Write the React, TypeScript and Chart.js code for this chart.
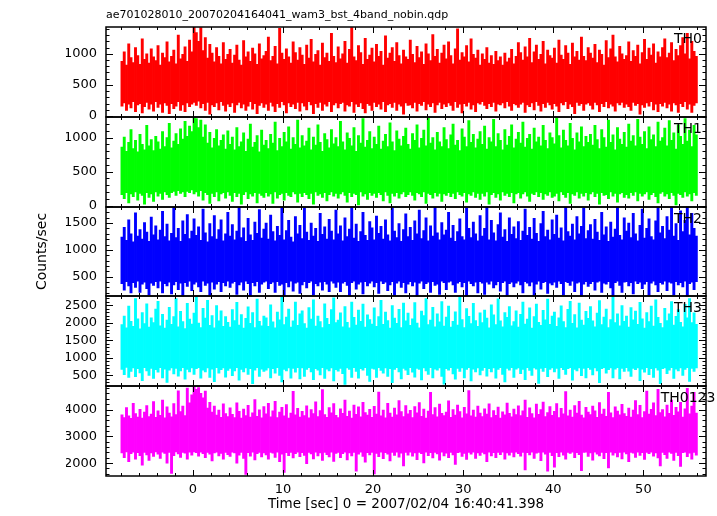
import { useEffect, useRef } from "react";
import { Chart, registerables } from "chart.js";

Chart.register(...registerables);

const FONT = "'DejaVu Sans', 'Liberation Sans', sans-serif";

const TITLE = "ae701028010_20070204164041_wam3_bst_4band_nobin.qdp";
const X_LABEL = "Time [sec] 0 = 2007/02/04 16:40:41.398";
const Y_LABEL = "Counts/sec";

const BAND_NAMES = ["TH0", "TH1", "TH2", "TH3", "TH0123"];
const BAND_COLORS = ["#ff0000", "#00ff00", "#0000ff", "#00ffff", "#ff00ff"];
const PANEL_IDS = ["y0", "y1", "y2", "y3", "y4"];

// time bins: 0.25 s wide, first bin starts at -8 s
const T_START = -8.0;
const T_STEP = 0.25;

// axis ranges and ticks
const X_MIN = -9.65;
const X_MAX = 56.95;
const X_MAJOR = 10;
const X_MINOR = 2;
const Y_MIN = [-12, -15, 134, 190, 1520];
const Y_MAX = [1430, 1307, 1807, 2760, 4870];
const Y_MAJOR = [500, 500, 500, 500, 1000];
const Y_MINOR = [100, 100, 100, 100, 200];

// per-bin upper and lower extent of the light curve (counts/sec)
const TH0_MAX = [
  880, 1030, 820, 1160, 940, 860, 1100, 970, 830, 1240, 910, 1000, 850, 1080, 950, 890,
  1130, 820, 1010, 940, 1190, 870, 960, 1060, 840, 1300, 920, 990, 1110, 880, 1220, 1030,
  1430, 1340, 1200, 1420, 1050, 1260, 930, 1150, 1010, 870, 1100, 960, 840, 1180, 910, 990,
  1070, 850, 980, 1140, 900, 820, 1210, 950, 1030, 880, 1090, 1000, 830, 1160, 920, 970,
  1040, 1270, 890, 960, 1120, 840, 1410, 1010, 910, 1080, 950, 850, 1190, 1020, 900, 1100,
  980, 830, 1140, 930, 1230, 870, 990, 1050, 820, 1170, 940, 1010, 880, 1330, 960, 860,
  1110, 920, 1000, 1200, 850, 1070, 1420, 950, 890, 1130, 1020, 830, 1250, 910, 980, 1090,
  870, 1150, 960, 1040, 820, 1290, 930, 1010, 1100, 880, 1180, 970, 840, 1060, 950, 910,
  1220, 990, 860, 1120, 940, 1030, 830, 1160, 1000, 890, 1310, 960, 1070, 850, 1010, 1140,
  920, 1190, 970, 840, 1080, 1400, 900, 1020, 950, 1130, 870, 1240, 990, 930, 1060, 820,
  1000, 910, 1100, 850, 970, 830, 1040, 890, 950, 820, 1010, 870, 930, 1070, 840, 960,
  1180, 1020, 900, 1110, 950, 1250, 860, 1030, 1140, 910, 990, 1200, 840, 1060, 970, 930,
  1090, 850, 1220, 980, 910, 1130, 1010, 830, 1170, 950, 1040, 900, 1270, 960, 890, 1100,
  1010, 930, 1150, 860, 1060, 990, 820, 1210, 940, 1080, 1300, 950, 870, 1120, 1000, 910,
  970, 1190, 880, 1050, 960, 1140, 840, 1020, 1230, 910, 1090, 980, 1160, 850, 1030, 950,
  1100, 1240, 940, 1010, 1180, 890, 1070, 970, 1130, 1260, 1000, 1330, 920, 1200, 1040, 960,
];
const TH0_MIN = [
  160, 210, 90, 190, 130, 230, 70, 180, 200, 50, 150, 220, 110, 190, 80, 230,
  140, 190, 60, 210, 170, 40, 200, 120, 160, 230, 90, 180, 70, 210, 150, 190,
  220, 170, 240, 130, 200, 90, 220, 30, 180, 150, 210, 100, 230, 170, 80, 190,
  150, 210, 60, 180, 220, 130, 190, 90, 160, 230, 110, 200, 40, 170, 210, 140,
  190, 90, 220, 160, 70, 200, 140, 230, 180, 50, 210, 150, 190, 120, 220, 80,
  210, 160, 100, 230, 180, 40, 200, 140, 220, 90, 190, 160, 230, 70, 180, 210,
  130, 200, 220, 80, 180, 160, 230, 60, 190, 150, 210, 120, 50, 200, 170, 90,
  220, 150, 190, 110, 230, 70, 180, 200, 140, 220, 90, 190, 160, 30, 210, 170,
  180, 130, 220, 80, 200, 170, 230, 100, 190, 150, 210, 60, 180, 220, 120, 190,
  150, 210, 170, 90, 230, 140, 190, 50, 200, 160, 220, 110, 180, 70, 210, 190,
  230, 170, 120, 200, 150, 220, 80, 190, 180, 210, 130, 230, 160, 90, 200, 180,
  140, 190, 220, 60, 180, 150, 210, 100, 230, 170, 80, 200, 140, 220, 180, 110,
  200, 160, 70, 210, 180, 230, 120, 190, 150, 40, 220, 170, 200, 90, 190, 210,
  170, 110, 220, 180, 70, 200, 150, 230, 130, 190, 160, 80, 210, 180, 220, 140,
  190, 150, 90, 220, 170, 200, 30, 180, 140, 210, 160, 230, 100, 190, 70, 200,
  160, 220, 130, 190, 80, 210, 180, 60, 200, 150, 230, 110, 190, 60, 170, 210,
];

const TH1_MAX = [
  860, 1010, 800, 930, 1120, 840, 960, 790, 1050, 900, 820, 1180, 880, 970, 810, 1020,
  940, 830, 1090, 870, 1000, 1210, 850, 950, 1060, 900, 1130, 980, 1240, 1020, 1170, 1090,
  1300, 1280, 1150, 1260, 1010, 1190, 920, 1080, 850, 990, 1120, 880, 960, 1040, 830, 1100,
  900, 1010, 820, 1150, 870, 940, 1070, 800, 980, 1200, 860, 930, 1030, 790, 1110, 890,
  960, 840, 1050, 920, 1230, 810, 990, 870, 1080, 940, 1160, 830, 1000, 900, 1260, 850,
  1030, 880, 950, 1140, 820, 1010, 890, 1190, 930, 800, 1060, 970, 850, 1120, 910, 1000,
  870, 1240, 940, 820, 1070, 990, 880, 1150, 800, 1030, 920, 1280, 860, 960, 1090, 840,
  1010, 900, 1170, 830, 950, 1050, 870, 1220, 940, 810, 1100, 980, 880, 1020, 1140, 900,
  830, 1060, 960, 1190, 850, 990, 1110, 880, 1290, 920, 1000, 820, 1080, 940, 870, 1150,
  970, 840, 1040, 1200, 890, 960, 810, 1130, 1010, 870, 1250, 930, 1050, 850, 980, 1090,
  900, 1170, 830, 1000, 940, 1270, 870, 1060, 960, 820, 1120, 890, 1020, 1190, 850, 980,
  1080, 920, 1230, 860, 990, 1050, 830, 1140, 940, 1010, 880, 1180, 960, 840, 1070, 1000,
  910, 1290, 1030, 850, 1110, 960, 880, 1210, 990, 820, 1070, 940, 1160, 870, 1020, 930,
  1050, 890, 1180, 970, 840, 1120, 1000, 860, 1260, 930, 1040, 820, 1150, 980, 900, 1080,
  860, 1200, 950, 1030, 880, 1270, 1010, 900, 1090, 840, 1160, 970, 1040, 870, 1230, 950,
  1000, 1140, 880, 1250, 960, 1070, 830, 1190, 1020, 900, 1280, 950, 1110, 870, 1180, 1040,
];
const TH1_MIN = [
  160, 100, 190, 40, 170, 130, 200, 80, 180, 150, 20, 190, 120, 170, 60, 200,
  140, 180, 90, 200, 160, 120, 190, 210, 150, 220, 180, 200, 130, 210, 190, 230,
  170, 200, 140, 220, 80, 190, 160, 30, 180, 130, 200, 70, 170, 190, 110, 200,
  150, 60, 190, 130, 180, 20, 160, 200, 100, 170, 140, 190, 40, 180, 150, 120,
  190, 140, 170, 30, 200, 110, 160, 180, 80, 190, 150, 130, 200, 170, 50, 180,
  130, 190, 160, 100, 180, 20, 200, 150, 170, 120, 190, 70, 160, 200, 140, 180,
  110, 170, 200, 150, 50, 190, 130, 180, 160, 10, 200, 140, 170, 90, 190, 150,
  180, 120, 190, 160, 70, 200, 150, 40, 180, 140, 190, 110, 170, 200, 130, 160,
  200, 150, 80, 190, 170, 130, 200, 30, 180, 160, 110, 190, 140, 180, 60, 170,
  150, 190, 130, 180, 100, 200, 160, 140, 190, 50, 170, 150, 200, 120, 180, 90,
  180, 140, 200, 20, 160, 190, 120, 170, 80, 200, 150, 180, 130, 190, 40, 170,
  190, 110, 170, 200, 140, 60, 180, 160, 200, 130, 190, 90, 170, 150, 200, 120,
  140, 180, 70, 200, 160, 120, 190, 30, 170, 150, 200, 110, 180, 140, 190, 80,
  170, 200, 130, 180, 20, 190, 150, 160, 100, 200, 140, 180, 50, 170, 190, 120,
  160, 110, 190, 150, 200, 70, 180, 140, 170, 200, 90, 160, 190, 130, 40, 180,
  200, 140, 170, 100, 190, 150, 10, 180, 160, 120, 200, 140, 170, 70, 190, 150,
];

const TH2_MAX = [
  1240, 1420, 1180, 1560, 1300, 1150, 1690, 1260, 1380, 1200, 1510, 1330, 1160, 1610, 1280, 1450,
  1190, 1370, 1720, 1250, 1480, 1170, 1310, 1800, 1230, 1400, 1160, 1540, 1290, 1660, 1210, 1350,
  1580, 1270, 1430, 1180, 1760, 1320, 1150, 1490, 1250, 1640, 1200, 1380, 1560, 1170, 1300, 1700,
  1260, 1470, 1190, 1350, 1800, 1230, 1410, 1160, 1590, 1280, 1180, 1520, 1310, 1750, 1220, 1390,
  1500, 1200, 1650, 1340, 1170, 1440, 1270, 1800, 1190, 1360, 1550, 1240, 1150, 1620, 1300, 1460,
  1210, 1780, 1330, 1180, 1500, 1260, 1400, 1160, 1680, 1290, 1430, 1200, 1570, 1350, 1190, 1740,
  1300, 1450, 1170, 1600, 1250, 1390, 1800, 1220, 1480, 1160, 1340, 1700, 1270, 1180, 1530, 1410,
  1190, 1630, 1310, 1440, 1200, 1560, 1280, 1170, 1790, 1350, 1230, 1490, 1160, 1380, 1670, 1250,
  1420, 1180, 1540, 1300, 1740, 1210, 1360, 1600, 1170, 1450, 1260, 1800, 1320, 1190, 1510, 1280,
  1370, 1700, 1220, 1460, 1160, 1340, 1580, 1250, 1190, 1780, 1400, 1230, 1520, 1300, 1170, 1640,
  1260, 1400, 1800, 1190, 1550, 1320, 1170, 1470, 1690, 1240, 1380, 1160, 1600, 1290, 1430, 1210,
  1530, 1180, 1350, 1760, 1270, 1420, 1200, 1590, 1310, 1160, 1490, 1720, 1250, 1370, 1190, 1560,
  1290, 1650, 1220, 1410, 1170, 1800, 1340, 1260, 1480, 1190, 1620, 1300, 1440, 1780, 1210, 1360,
  1470, 1200, 1570, 1330, 1180, 1700, 1280, 1430, 1160, 1520, 1240, 1390, 1800, 1270, 1190, 1600,
  1350, 1500, 1230, 1680, 1300, 1170, 1460, 1760, 1220, 1400, 1580, 1250, 1190, 1540, 1800, 1320,
  1440, 1210, 1620, 1370, 1800, 1260, 1490, 1180, 1730, 1340, 1550, 1800, 1280, 1680, 1400, 1260,
];
const TH2_MIN = [
  370, 250, 410, 330, 200, 390, 300, 420, 210, 360, 400, 280, 160, 380, 340, 410,
  290, 420, 200, 370, 330, 400, 180, 350, 410, 260, 380, 140, 390, 320, 420, 240,
  360, 400, 310, 220, 420, 340, 380, 150, 400, 270, 360, 410, 220, 390, 330, 420,
  300, 380, 410, 170, 350, 400, 250, 420, 370, 140, 390, 330, 410, 210, 360, 400,
  420, 280, 370, 400, 210, 410, 340, 360, 140, 390, 310, 420, 230, 380, 400, 190,
  350, 410, 290, 390, 420, 160, 370, 330, 400, 250, 410, 360, 220, 420, 380, 300,
  400, 220, 380, 410, 340, 140, 390, 420, 270, 360, 400, 180, 410, 330, 380, 420,
  310, 390, 190, 420, 370, 400, 240, 350, 410, 150, 380, 420, 300, 390, 200, 360,
  410, 330, 400, 140, 380, 420, 280, 370, 400, 210, 410, 340, 360, 170, 420, 390,
  260, 400, 420, 350, 210, 380, 410, 310, 390, 140, 420, 370, 330, 400, 200, 410,
  380, 170, 400, 360, 420, 290, 350, 410, 230, 390, 420, 150, 370, 400, 310, 380,
  420, 350, 200, 410, 380, 330, 400, 140, 360, 420, 270, 390, 410, 190, 380, 350,
  400, 300, 420, 370, 160, 410, 390, 340, 420, 220, 380, 400, 140, 360, 410, 320,
  370, 410, 250, 400, 420, 210, 380, 360, 410, 290, 140, 390, 420, 340, 210, 400,
  410, 330, 390, 180, 420, 370, 400, 280, 360, 410, 150, 380, 420, 350, 220, 390,
  360, 420, 240, 400, 380, 160, 410, 350, 390, 310, 420, 140, 370, 400, 260, 410,
];

const TH3_MAX = [
  1950, 2200, 1860, 2480, 2050, 1900, 2700, 2120, 1830, 2300, 1980, 2550, 1880, 2150, 2010, 2400,
  2620, 1920, 2250, 1850, 2080, 2450, 1960, 2180, 2700, 1890, 2330, 2040, 1840, 2560, 2110, 1970,
  2280, 2750, 2000, 1870, 2420, 2140, 2650, 1930, 2210, 1860, 2500, 2060, 2350, 1900, 2180, 2020,
  1880, 2380, 2070, 2590, 1940, 2240, 1850, 2130, 2460, 1990, 2300, 1870, 2680, 2050, 1920, 2200,
  2150, 1900, 2520, 2030, 1860, 2310, 2090, 2740, 1950, 2170, 2400, 1880, 2060, 2600, 1930, 2260,
  2350, 1980, 1850, 2440, 2110, 2660, 1910, 2200, 2040, 1870, 2550, 2130, 1960, 2380, 2720, 2010,
  2080, 2290, 1890, 2470, 2020, 1860, 2600, 2160, 1940, 2370, 2050, 2540, 1880, 2230, 2100, 1970,
  2430, 1900, 2180, 2650, 1960, 2310, 2070, 1850, 2500, 2140, 1990, 2390, 1870, 2570, 2060, 2280,
  1930, 2120, 2580, 2000, 1860, 2340, 2210, 2700, 1950, 2080, 2450, 1890, 2260, 2030, 2610, 1910,
  2170, 2480, 1880, 2050, 2320, 1940, 2750, 2100, 1870, 2410, 2190, 1980, 2560, 2070, 1900, 2290,
  2010, 2370, 2140, 1860, 2520, 2230, 1950, 2690, 2060, 1890, 2300, 2160, 2470, 1920, 2040, 2350,
  1880, 2250, 2600, 1970, 2110, 2430, 1850, 2180, 2540, 2020, 1930, 2360, 2090, 2680, 1960, 2200,
  2310, 1900, 2150, 2490, 2040, 1870, 2390, 2620, 1990, 2240, 1860, 2570, 2080, 1940, 2330, 2130,
  2470, 2060, 1890, 2280, 2640, 1950, 2170, 2400, 1870, 2100, 2730, 2010, 2260, 1920, 2500, 2050,
  2200, 1880, 2440, 2090, 2340, 1960, 2590, 2120, 1850, 2300, 2040, 2480, 1910, 2660, 2160, 1990,
  1870, 2420, 2070, 2260, 2610, 1940, 2190, 2380, 2020, 1890, 2530, 2150, 2700, 2010, 2290, 1960,
];
const TH3_MIN = [
  670, 520, 730, 440, 610, 710, 460, 690, 570, 350, 720, 630, 500, 700, 410, 660,
  590, 720, 430, 680, 300, 650, 710, 540, 700, 480, 630, 720, 390, 670, 600, 710,
  530, 690, 720, 420, 650, 600, 710, 440, 680, 320, 720, 560, 660, 710, 450, 640,
  700, 490, 630, 720, 360, 670, 600, 710, 530, 690, 260, 650, 720, 470, 680, 610,
  650, 710, 430, 690, 560, 720, 500, 310, 670, 630, 710, 420, 700, 590, 720, 400,
  710, 470, 670, 720, 600, 380, 690, 650, 510, 720, 410, 680, 630, 710, 340, 660,
  620, 700, 550, 240, 710, 670, 440, 720, 610, 420, 690, 650, 720, 500, 330, 700,
  680, 440, 720, 640, 560, 710, 470, 690, 290, 670, 720, 600, 400, 700, 650, 520,
  720, 590, 450, 700, 670, 370, 710, 630, 530, 720, 430, 680, 650, 710, 470, 250,
  690, 650, 720, 540, 390, 700, 610, 710, 430, 670, 720, 340, 680, 600, 710, 510,
  640, 720, 480, 690, 600, 710, 420, 670, 720, 530, 310, 700, 650, 720, 440, 680,
  710, 550, 670, 380, 720, 640, 500, 710, 680, 270, 700, 610, 720, 460, 670, 710,
  600, 700, 410, 720, 660, 530, 690, 720, 360, 670, 630, 710, 490, 700, 430, 720,
  670, 510, 710, 630, 290, 690, 720, 560, 660, 710, 430, 680, 720, 400, 700, 610,
  720, 620, 470, 700, 660, 710, 350, 680, 590, 720, 520, 690, 440, 710, 650, 260,
  690, 710, 550, 650, 720, 410, 680, 630, 710, 500, 670, 720, 330, 700, 610, 710,
];

const TH0123_MAX = [
  3800, 3700, 4070, 3760, 3670, 4230, 3850, 3720, 4010, 3680, 3900, 4150, 3740, 3830, 4300, 3710,
  3950, 3780, 4350, 3690, 4100, 3870, 3730, 4220, 3810, 4700, 3920, 4130, 3770, 4800, 4250, 4550,
  4870, 4750, 4820, 4600, 4440, 4690, 4050, 4270, 3900, 4130, 3790, 3980, 3710, 4210, 3850, 3740,
  4060, 3820, 3700, 4250, 3930, 3680, 4020, 3770, 4160, 3720, 3880, 4370, 3750, 3990, 3690, 4110,
  3840, 4230, 3730, 3950, 4310, 3700, 3900, 4080, 3760, 4180, 3680, 3870, 4680, 3800, 4040, 3720,
  3930, 3770, 4140, 3690, 4000, 3850, 4290, 3740, 3960, 4740, 3810, 3710, 4070, 3880, 4220, 3780,
  3700, 4030, 3860, 4350, 3750, 3940, 3680, 4170, 3820, 4100, 3730, 4270, 3890, 3790, 4010, 3710,
  4120, 3830, 4650, 3760, 3980, 3690, 4230, 3870, 3720, 4050, 3800, 4330, 3920, 3740, 4150, 3840,
  3970, 3700, 4110, 3880, 4260, 3750, 4020, 3680, 3940, 4640, 3810, 4070, 3730, 4200, 3860, 3770,
  3900, 4320, 3710, 4000, 3790, 4170, 3920, 3690, 4080, 3840, 4710, 3760, 3980, 3720, 4130, 3870,
  3740, 4030, 3830, 4210, 3700, 3960, 3780, 4090, 3680, 3910, 3800, 4240, 3860, 3730, 4020, 3810,
  4140, 3770, 3950, 4350, 3710, 4060, 3850, 3690, 4200, 3820, 4000, 4280, 3740, 3890, 4110, 3780,
  3930, 4220, 3700, 4040, 3840, 4670, 3760, 3980, 3720, 4150, 3870, 4310, 3790, 3690, 4080, 3900,
  3810, 4130, 3950, 3710, 4260, 3830, 4020, 3750, 4640, 3880, 3700, 4100, 3940, 3800, 4190, 3850,
  3750, 4050, 3720, 3980, 4330, 3810, 4160, 3700, 3920, 4690, 3830, 4010, 4250, 3770, 4750, 3890,
  4000, 3730, 4170, 3860, 4350, 3780, 4080, 3910, 4270, 3720, 4030, 4790, 3840, 4130, 4640, 3870,
];
const TH0123_MIN = [
  2380, 2200, 2420, 2050, 2350, 2410, 2150, 2390, 2280, 1920, 2400, 2310, 2100, 2380, 2250, 2420,
  2330, 2180, 2410, 2360, 2000, 2400, 1620, 2280, 2420, 2340, 2210, 2400, 2370, 2150, 2410, 2300,
  2420, 2390, 2260, 2410, 2350, 2200, 2400, 2330, 2080, 2380, 2410, 2270, 2360, 2150, 2400, 2320,
  2250, 2410, 2380, 2000, 2300, 2400, 2180, 1580, 2390, 2260, 2410, 2120, 2350, 2400, 2230, 2380,
  2310, 2150, 2400, 2370, 2210, 2410, 2050, 2330, 1650, 2390, 2280, 2400, 2190, 2350, 2410, 2240,
  2390, 2290, 1980, 2400, 2340, 2160, 2410, 2270, 2380, 2100, 2400, 2320, 2230, 2410, 2060, 2360,
  2400, 2200, 2350, 2410, 2120, 2380, 2270, 2400, 1700, 2330, 2410, 2250, 2040, 2390, 2310, 2400,
  1600, 2360, 2240, 2410, 2170, 2390, 2330, 2080, 2400, 2290, 2410, 2220, 2370, 1900, 2400, 2300,
  2410, 2260, 2380, 2130, 2400, 2350, 2010, 2410, 2280, 2390, 2190, 2400, 2340, 2110, 2410, 2270,
  2370, 2200, 2400, 2310, 1950, 2390, 2410, 2250, 2360, 2140, 2400, 2330, 2410, 2180, 2380, 2290,
  2400, 2340, 2050, 2410, 2270, 2390, 2200, 2400, 2320, 2410, 2150, 2380, 2300, 2400, 2230, 2410,
  2350, 2260, 2400, 1750, 2390, 2310, 2410, 2180, 2370, 2400, 2090, 2410, 2330, 1700, 2400, 2280,
  1850, 2390, 2240, 2410, 2300, 2150, 2400, 2360, 2410, 2200, 2390, 2320, 1720, 2400, 2410, 2250,
  2380, 2110, 2410, 2330, 2270, 2400, 2170, 2390, 1820, 2410, 2300, 2380, 2230, 2400, 2160, 2410,
  2340, 2050, 2400, 2370, 2210, 2410, 2290, 2390, 2140, 2400, 2350, 2410, 2260, 2380, 2190, 1900,
  2400, 2320, 2180, 2410, 2360, 2100, 2400, 2280, 1880, 2390, 2410, 2240, 2370, 2150, 2400, 2300,
];

const SERIES_MAX = [TH0_MAX, TH1_MAX, TH2_MAX, TH3_MAX, TH0123_MAX];
const SERIES_MIN = [TH0_MIN, TH1_MIN, TH2_MIN, TH3_MIN, TH0123_MIN];

const framePlugin = {
  id: "qdpFrame",
  afterDatasetsDraw(chart: any) {
    const ctx = chart.ctx as CanvasRenderingContext2D;
    const xs = chart.scales.x;
    const left = Math.round(chart.chartArea.left);
    const right = Math.round(chart.chartArea.right);
    ctx.save();
    ctx.strokeStyle = "#000";
    ctx.fillStyle = "#000";
    PANEL_IDS.forEach((id, k) => {
      const ys = chart.scales[id];
      const top = Math.round(ys.top);
      const bottom = Math.round(ys.bottom);
      ctx.lineWidth = 1;
      ctx.beginPath();
      const kx0 = Math.ceil(X_MIN / X_MINOR);
      for (let j = kx0; j * X_MINOR <= X_MAX; j++) {
        const v = j * X_MINOR;
        const px = Math.round(xs.getPixelForValue(v)) + 0.5;
        const len = v % X_MAJOR === 0 ? 6 : 3;
        ctx.moveTo(px, bottom);
        ctx.lineTo(px, bottom - len);
        ctx.moveTo(px, top);
        ctx.lineTo(px, top + len);
      }
      const minor = Y_MINOR[k];
      const major = Y_MAJOR[k];
      const ky0 = Math.ceil(Y_MIN[k] / minor);
      for (let j = ky0; j * minor <= Y_MAX[k]; j++) {
        const v = j * minor;
        const py = Math.round(ys.getPixelForValue(v)) + 0.5;
        const len = v % major === 0 ? 7 : 3.5;
        ctx.moveTo(left, py);
        ctx.lineTo(left + len, py);
        ctx.moveTo(right, py);
        ctx.lineTo(right - len, py);
      }
      ctx.stroke();
      ctx.lineWidth = 1.5;
      ctx.strokeRect(left, top, right - left, bottom - top);
      ctx.font = "14px " + FONT;
      ctx.textAlign = "center";
      ctx.textBaseline = "alphabetic";
      ctx.fillText(BAND_NAMES[k], right - 18, top + 15.5);
    });
    ctx.restore();
  },
};

function buildConfig(): any {
  const yScales: Record<string, any> = {};
  for (let k = PANEL_IDS.length - 1; k >= 0; k--) {
    const kk = k;
    yScales[PANEL_IDS[k]] = {
      type: "linear",
      axis: "y",
      position: "left",
      stack: "panels",
      stackWeight: 1,
      min: Y_MIN[k],
      max: Y_MAX[k],
      grid: { display: false, drawTicks: false },
      border: { display: false },
      ticks: {
        autoSkip: false,
        padding: 9,
        color: "#000",
        font: { family: FONT, size: 13 },
        callback: (v: number) => String(v),
      },
      afterBuildTicks: (s: any) => {
        const vals: { value: number }[] = [];
        const step = Y_MAJOR[kk];
        for (let j = Math.ceil(Y_MIN[kk] / step); j * step <= Y_MAX[kk]; j++) {
          vals.push({ value: j * step });
        }
        s.ticks = vals;
      },
      afterFit: (s: any) => {
        s.width = 40;
      },
    };
  }
  const datasets = SERIES_MAX.map((hi, k) => {
    const lo = SERIES_MIN[k];
    return {
      type: "bar",
      label: BAND_NAMES[k],
      yAxisID: PANEL_IDS[k],
      xAxisID: "x",
      data: hi.map((h, i) => ({
        x: T_START + (i + 0.5) * T_STEP,
        y: [lo[i], h],
      })),
      backgroundColor: BAND_COLORS[k],
      borderWidth: 0,
      grouped: false,
      barPercentage: 1,
      categoryPercentage: 1,
    };
  });
  return {
    type: "line",
    data: { datasets },
    plugins: [framePlugin],
    options: {
      responsive: false,
      devicePixelRatio: 1,
      animation: false,
      events: [],
      layout: { padding: { top: 0, left: 0, right: 11, bottom: 0 } },
      plugins: {
        legend: { display: false },
        tooltip: { enabled: false },
        title: {
          display: true,
          text: TITLE,
          position: "top",
          align: "start",
          fullSize: false,
          color: "#000",
          font: { family: FONT, size: 11, weight: "normal", lineHeight: 1 },
          padding: { top: 9.5, bottom: 6.5 },
        },
        subtitle: {
          display: true,
          text: Y_LABEL,
          position: "left",
          align: "center",
          fullSize: false,
          color: "#000",
          font: { family: FONT, size: 14, weight: "normal", lineHeight: 1 },
          padding: { top: 35, bottom: 17 },
        },
      },
      scales: {
        x: {
          type: "linear",
          position: "bottom",
          offset: false,
          min: X_MIN,
          max: X_MAX,
          grid: { display: false, drawTicks: false, offset: false },
          border: { display: false },
          ticks: {
            stepSize: X_MAJOR,
            includeBounds: false,
            autoSkip: false,
            maxRotation: 0,
            padding: 6,
            color: "#000",
            font: { family: FONT, size: 13 },
            callback: (v: number) => String(v),
          },
          title: {
            display: true,
            text: X_LABEL,
            color: "#000",
            font: { family: FONT, size: 13.5, lineHeight: 1 },
            padding: { top: 0, bottom: 4.6 },
          },
          afterFit: (s: any) => {
            s.height = 40;
          },
        },
        ...yScales,
      },
    },
  };
}

export default function App() {
  const ref = useRef<HTMLCanvasElement | null>(null);
  useEffect(() => {
    const canvas = ref.current;
    if (!canvas) return;
    const chart = new Chart(canvas, buildConfig());
    return () => {
      chart.destroy();
    };
  }, []);
  return (
    <div
      style={{
        position: "fixed",
        left: 0,
        top: 0,
        width: 717,
        height: 516,
        background: "#fff",
      }}
    >
      <canvas
        ref={ref}
        width={717}
        height={516}
        style={{ display: "block", width: 717, height: 516 }}
      />
    </div>
  );
}
